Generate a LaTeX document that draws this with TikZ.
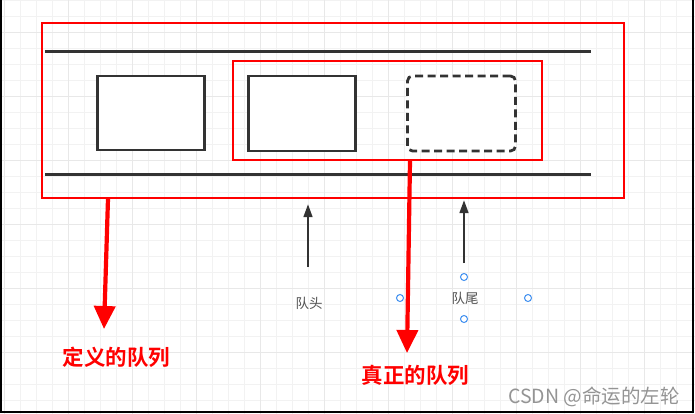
\documentclass[tikz,border=0pt]{standalone}
\usepackage{fontspec}
\newfontfamily\cjk{Noto Sans CJK SC}
\newfontfamily\cjkb{Noto Sans CJK SC Bold}
\usetikzlibrary{arrows.meta}
\definecolor{dk}{HTML}{333333}
\definecolor{rd}{HTML}{FF0000}
\definecolor{hb}{HTML}{3D8EF0}
\begin{document}
\begin{tikzpicture}[x=1pt,y=-1pt,
  boxst/.style={draw=dk,line width=2.8pt,fill=white,outer sep=0pt},
  redbox/.style={draw=rd,line width=1.6pt,outer sep=0pt},
  barst/.style={draw=dk,line width=3pt},
  redarr/.style={draw=rd,line width=4.2pt,-{Triangle[width=21pt,length=23pt]}},
  blkarr/.style={draw=dk,line width=2.6pt,-{Triangle[width=8.5pt,length=13pt]}},
  handle/.style={draw=hb,line width=1pt,fill=white,circle,inner sep=0pt,minimum size=7pt},
  lbl/.style={font=\cjk\fontsize{13.5}{15}\selectfont,text=dk!85,inner sep=0pt},
  biglbl/.style={font=\cjkb\fontsize{21.5}{24}\selectfont,text=rd,inner sep=0pt}]
\useasboundingbox (0,0) rectangle (695,414);
\fill[white] (0,0) rectangle (695,414);
% grid
\foreach \gx in {4,20,...,692} \draw[line width=0.8pt,color=black!5] (\gx,0) -- (\gx,414);
\foreach \gy in {0,16,...,414} \draw[line width=0.8pt,color=black!5] (0,\gy) -- (695,\gy);
\foreach \gx in {4,68,...,692} \draw[line width=0.8pt,color=black!9] (\gx,0) -- (\gx,414);
\foreach \gy in {32,96,...,414} \draw[line width=0.8pt,color=black!9] (0,\gy) -- (695,\gy);
% frame
\draw[line width=2pt,black] (1,0) -- (1,412) -- (693,412) -- (693,0);
% bars
\coordinate (t1) at (45,52); \coordinate (t2) at (591,52);
\coordinate (b1) at (45,174.5); \coordinate (b2) at (591,174.5);
\draw[barst] (t1) -- (t2);
\draw[barst] (b1) -- (b2);
% boxes
\node[boxst,rectangle,minimum width=107pt,minimum height=74pt,anchor=north west] (box1) at (97.5,76) {};
\node[boxst,rectangle,minimum width=107pt,minimum height=75pt,anchor=north west] (box2) at (248.5,76) {};
\node[draw=dk,line width=2.8pt,dash pattern=on 8pt off 4.5pt,rounded corners=5pt,fill=white,outer sep=0pt,rectangle,minimum width=108pt,minimum height=75pt,anchor=north west] (box3) at (407.5,76) {};
% red rects
\node[redbox,rectangle,minimum width=582pt,minimum height=175pt,anchor=north west,inner sep=0pt] (outer) at (42,23) {};
\node[redbox,rectangle,minimum width=309pt,minimum height=99pt,anchor=north west,inner sep=0pt] (inner) at (233,61) {};
% red arrows
\coordinate (r1s) at (108,198.5);
\coordinate (r1e) at (104,329);
\draw[redarr] (r1s) -- (r1e);
\coordinate (r2s) at (410,160.5);
\coordinate (r2e) at (407,353);
\draw[redarr] (r2s) -- (r2e);
% black arrows
\coordinate (a1s) at (308,267); \coordinate (a1e) at (308,204);
\coordinate (a2s) at (464,263); \coordinate (a2e) at (464,200);
\draw[blkarr] (a1s) -- (a1e);
\draw[blkarr] (a2s) -- (a2e);
% labels
\node[lbl] (head) at (309,303) {队头};
\node[lbl] (tail) at (465,298) {队尾};
\node[handle] (h1) at (464,277) {};
\node[handle] (h2) at (400,298) {};
\node[handle] (h3) at (528,298) {};
\node[handle] (h4) at (464,319) {};
\node[biglbl] (def) at (116.5,357.5) {定义的队列};
\node[biglbl] (real) at (415.5,375.5) {真正的队列};
\node[font=\cjk\fontsize{19.5}{21}\selectfont,text=black!42,inner sep=0pt,anchor=east] (wm) at (680,397) {CSDN @命运的左轮};
\end{tikzpicture}
\end{document}
